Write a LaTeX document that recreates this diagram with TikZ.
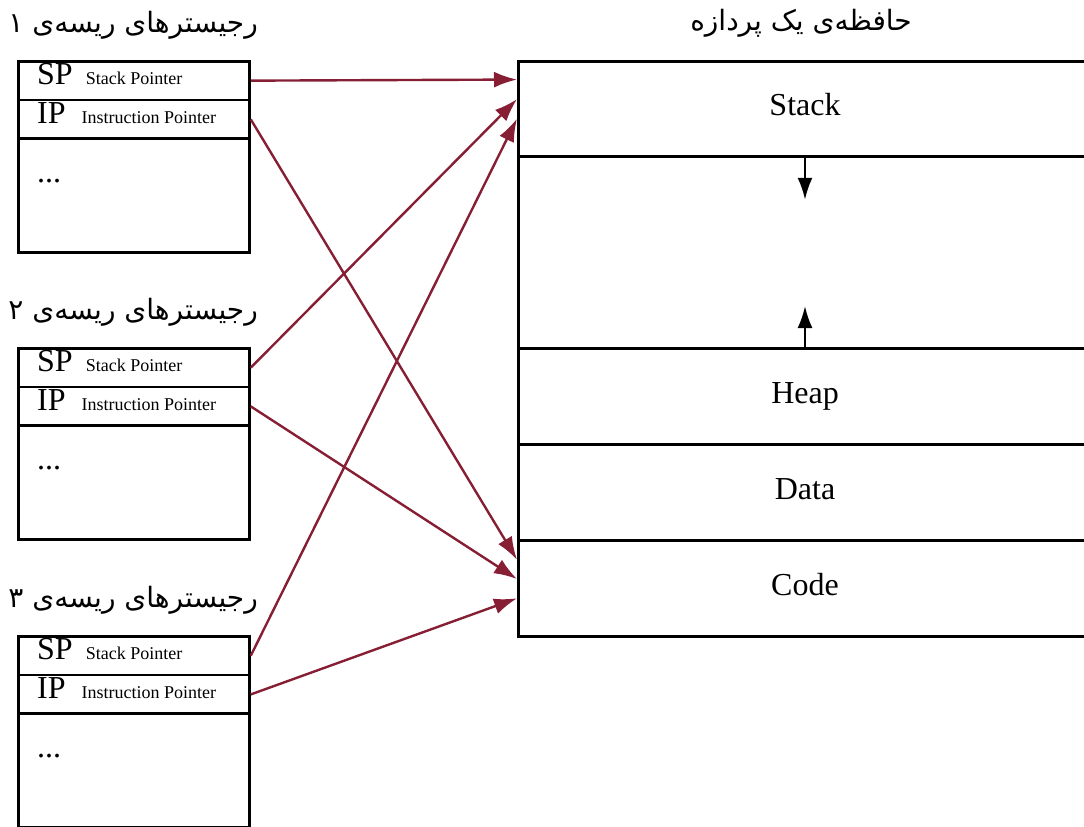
\documentclass[tikz,border=0pt]{standalone}
\usepackage{fontspec}
\setmainfont{Liberation Serif}
\newfontfamily\persianfont[Script=Arabic]{DejaVu Sans}
\TeXXeTstate=1
\usetikzlibrary{arrows.meta,calc}
\definecolor{ptrred}{RGB}{134,30,52}

% register abbreviation in large type followed by its full name in small type
\newcommand{\regname}[3]{{\fontsize{32}{32}\selectfont #1}\hspace{#3}{\fontsize{18}{18}\selectfont #2}}

\begin{document}
\begin{tikzpicture}[x=1pt,y=-1pt,
  frame/.style={draw=black, line width=2.8pt},
  regrow/.style={frame, anchor=north west, minimum width=231pt, minimum height=38.5pt, inner sep=0pt},
  regrest/.style={frame, anchor=north west, minimum width=231pt, minimum height=114pt, inner sep=0pt},
  memrow/.style={frame, anchor=north west, minimum width=583pt, inner sep=0pt},
  regtext/.style={anchor=base west, inner sep=0pt},
  memtext/.style={anchor=base, inner sep=0pt, font=\fontsize{32}{32}\selectfont},
  persian/.style={inner sep=0pt, font=\persianfont\fontsize{28}{28}\selectfont},
  pointer/.style={draw=ptrred, line width=2.4pt, -{Latex[length=23pt,width=16pt]}},
  growth/.style={draw=black, line width=2.4pt, -{Latex[length=22pt,width=15pt]}}
]
\clip (0,0) rectangle (1084,827);
\useasboundingbox (0,0) rectangle (1084,827);

% process memory layout
\node[memrow, minimum height=95pt] (stack) at (517,60) {};
\node[memrow, minimum height=192pt] (free) at (517,155) {};
\node[memrow, minimum height=96pt] (heap) at (517,347) {};
\node[memrow, minimum height=96pt] (data) at (517,443) {};
\node[memrow, minimum height=96pt] (code) at (517,539) {};
\node[memtext] (stacklbl) at (805,115) {Stack};
\node[memtext] (heaplbl) at (805,403) {Heap};
\node[memtext] (datalbl) at (805,499) {Data};
\node[memtext] (codelbl) at (805,595) {Code};
\node[persian, anchor=base] (memtitle) at (801,30) {\beginR حافظه‌ی یک پردازه\endR};

% growth directions of stack and heap
\coordinate (stackbase) at ($(stack.south west)+(288,0)$);
\coordinate (stackgrow) at ($(stackbase)+(0,42)$);
\coordinate (heapbase) at ($(heap.north west)+(288,0)$);
\coordinate (heapgrow) at ($(heapbase)+(0,-41)$);
\draw[growth] (stackbase) -- (stackgrow);
\draw[growth] (heapbase) -- (heapgrow);

% register files of the three threads
\foreach \t/\top/\num in {1/60/۱, 2/347/۲, 3/635/۳} {
  \node[regrow] (sp\t) at (17,\top) {};
  \node[regrow, minimum height=39pt] (ip\t) at (17,\top+38.5) {};
  \node[regrest] (rest\t) at (17,\top+77) {};
  \node[regtext] (sptxt\t) at (37,\top+24) {\regname{SP}{Stack Pointer}{13pt}};
  \node[regtext] (iptxt\t) at (37,\top+63) {\regname{IP}{Instruction Pointer}{16pt}};
  \node[regtext, font=\fontsize{32}{32}\selectfont] (dots\t) at (37,\top+122) {...};
  \node[persian, anchor=base east] (title\t) at (258,\top-28) {\beginR رجیسترهای ریسه‌ی \num\endR};
}

% stack and instruction pointers into memory
\draw[pointer] (sp1.east) -- ($(stack.north west)!0.2!(stack.south west)$);
\draw[pointer] (sp2.east) -- ($(stack.north west)!0.4!(stack.south west)$);
\draw[pointer] (sp3.east) -- ($(stack.north west)!0.6!(stack.south west)$);
\draw[pointer] (ip1.east) -- ($(code.north west)!0.21!(code.south west)$);
\draw[pointer] (ip2.east) -- ($(code.north west)!0.405!(code.south west)$);
\draw[pointer] (ip3.east) -- ($(code.north west)!0.6!(code.south west)$);
\end{tikzpicture}
\end{document}
